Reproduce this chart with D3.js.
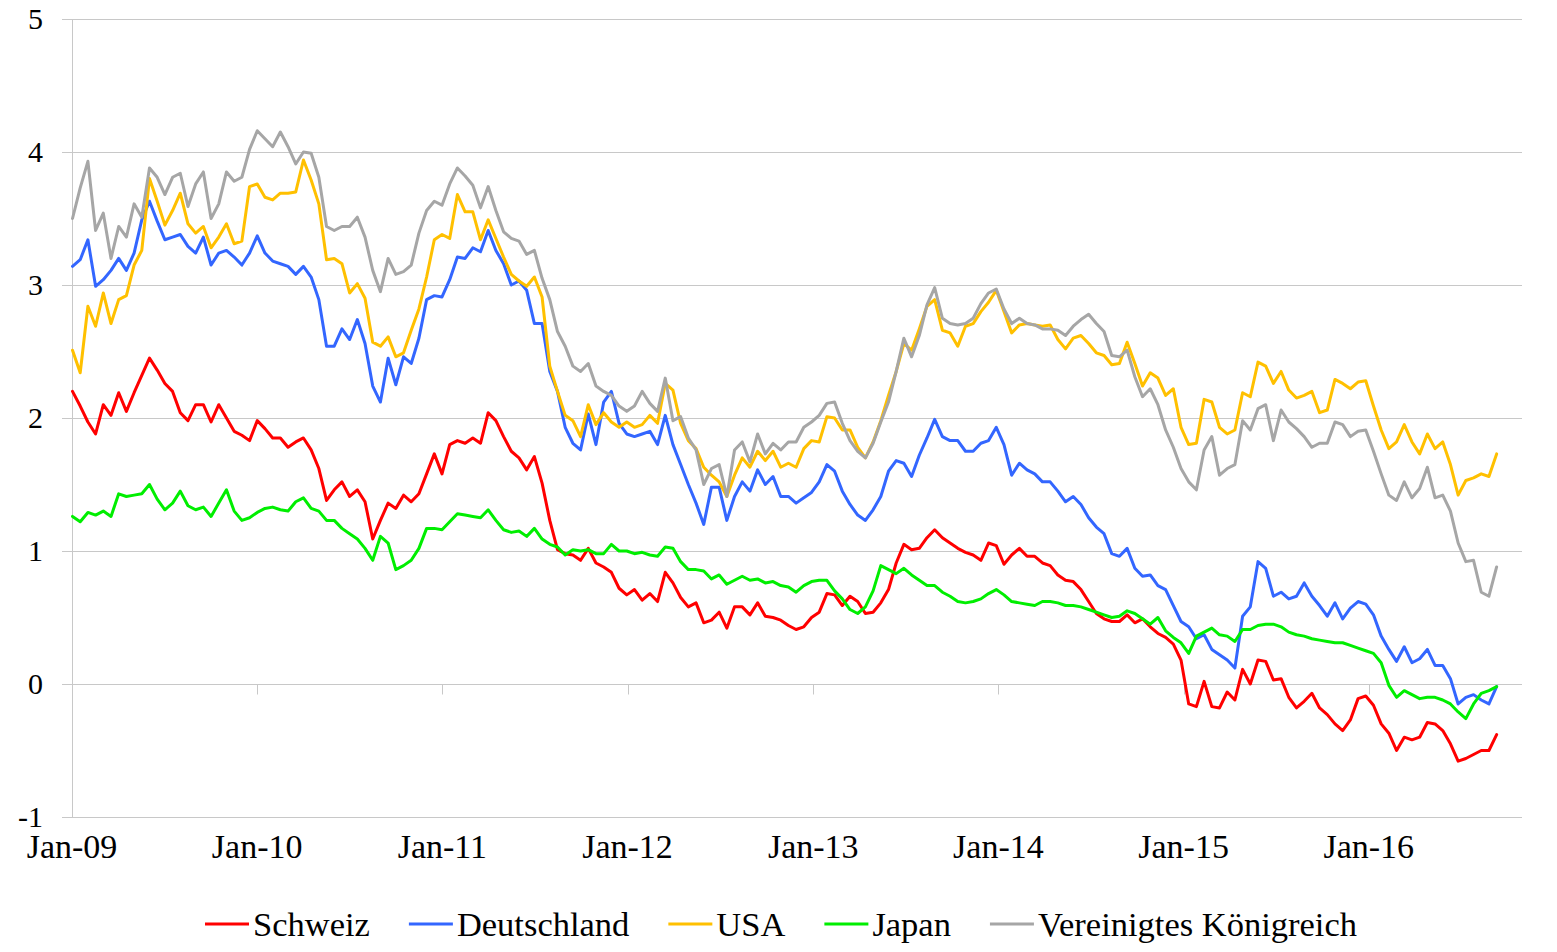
<!DOCTYPE html>
<html>
<head>
<meta charset="utf-8">
<script src="https://cdn.jsdelivr.net/npm/d3@7"></script>
<style>
  html, body { margin: 0; padding: 0; background: #fff; }
  svg { display: block; }
  text { font-family: "Liberation Serif", "Times New Roman", serif; fill: #000; }
</style>
</head>
<body>
<svg id="chart" width="1557" height="952"></svg>
<script>
// ---- data (semi-monthly observations, Jan 2009 - Sep 2016) ----
const seriesNames = ["Schweiz", "Deutschland", "USA", "Japan", "Vereinigtes Königreich"];
const seriesColors = ["#ff0000", "#3366ff", "#ffc000", "#00ee00", "#a6a6a6"];
const yTicks = [-1, 0, 1, 2, 3, 4, 5];
const xTickYears = [2009, 2010, 2011, 2012, 2013, 2014, 2015, 2016];

const schweiz = [
  2.20, 2.09, 1.97, 1.88, 2.10, 2.02, 2.19, 2.05, 2.19, 2.32, 2.45, 2.36, 2.26, 2.20, 2.04, 1.98, 2.10, 2.10, 1.97, 2.10, 2.00, 1.90, 1.87, 1.83, 1.98,
  1.92, 1.85, 1.85, 1.78, 1.82, 1.85, 1.76, 1.62, 1.38, 1.46, 1.52, 1.41, 1.46, 1.37, 1.09, 1.23, 1.36, 1.32, 1.42, 1.37, 1.43, 1.58, 1.73, 1.58,
  1.80, 1.83, 1.81, 1.85, 1.81, 2.04, 1.98, 1.86, 1.75, 1.70, 1.61, 1.71, 1.51, 1.23, 1.01, 0.98, 0.97, 0.93, 1.02, 0.91, 0.88, 0.84, 0.72, 0.67,
  0.71, 0.63, 0.68, 0.62, 0.84, 0.76, 0.65, 0.58, 0.61, 0.46, 0.48, 0.54, 0.42, 0.58, 0.58, 0.52, 0.61, 0.51, 0.50, 0.48, 0.44, 0.41, 0.43, 0.50,
  0.54, 0.68, 0.67, 0.59, 0.66, 0.62, 0.53, 0.54, 0.61, 0.71, 0.91, 1.05, 1.01, 1.02, 1.10, 1.16, 1.10, 1.06, 1.02, 0.99, 0.97, 0.93, 1.06, 1.04,
  0.90, 0.97, 1.02, 0.96, 0.96, 0.91, 0.89, 0.82, 0.78, 0.77, 0.71, 0.62, 0.53, 0.49, 0.47, 0.47, 0.52, 0.46, 0.49, 0.43, 0.38, 0.35, 0.30, 0.18,
  -0.15, -0.17, 0.02, -0.17, -0.18, -0.06, -0.12, 0.11, 0.00, 0.18, 0.17, 0.03, 0.04, -0.10, -0.18, -0.13, -0.07, -0.18, -0.23, -0.30, -0.35, -0.27, -0.11, -0.09,
  -0.16, -0.30, -0.37, -0.50, -0.40, -0.42, -0.40, -0.29, -0.30, -0.35, -0.45, -0.58, -0.56, -0.53, -0.50, -0.50, -0.38
];
const deutschland = [
  3.14, 3.19, 3.34, 2.99, 3.04, 3.11, 3.20, 3.11, 3.24, 3.49, 3.63, 3.48, 3.34, 3.36, 3.38, 3.29, 3.24, 3.36, 3.15, 3.24, 3.26, 3.21, 3.15, 3.24, 3.37,
  3.24, 3.18, 3.16, 3.14, 3.08, 3.14, 3.06, 2.89, 2.54, 2.54, 2.67, 2.59, 2.74, 2.56, 2.24, 2.12, 2.45, 2.25, 2.46, 2.41, 2.60, 2.89, 2.92, 2.91,
  3.04, 3.21, 3.20, 3.28, 3.25, 3.41, 3.26, 3.16, 3.00, 3.03, 2.96, 2.71, 2.71, 2.35, 2.20, 1.93, 1.81, 1.76, 2.03, 1.80, 2.12, 2.20, 1.96, 1.88,
  1.86, 1.88, 1.90, 1.80, 2.02, 1.80, 1.65, 1.50, 1.36, 1.20, 1.48, 1.48, 1.23, 1.41, 1.52, 1.45, 1.61, 1.50, 1.56, 1.41, 1.41, 1.36, 1.40, 1.44,
  1.52, 1.65, 1.60, 1.45, 1.35, 1.27, 1.23, 1.31, 1.41, 1.60, 1.68, 1.66, 1.56, 1.72, 1.85, 1.99, 1.86, 1.83, 1.83, 1.75, 1.75, 1.81, 1.83, 1.93,
  1.80, 1.57, 1.66, 1.61, 1.58, 1.52, 1.52, 1.45, 1.37, 1.41, 1.35, 1.25, 1.18, 1.13, 0.98, 0.96, 1.02, 0.87, 0.81, 0.82, 0.74, 0.71, 0.59, 0.47,
  0.43, 0.34, 0.37, 0.26, 0.22, 0.18, 0.12, 0.51, 0.58, 0.92, 0.87, 0.66, 0.69, 0.64, 0.66, 0.76, 0.66, 0.59, 0.51, 0.61, 0.49, 0.57, 0.62, 0.60,
  0.52, 0.36, 0.26, 0.17, 0.28, 0.16, 0.19, 0.26, 0.14, 0.14, 0.04, -0.15, -0.10, -0.08, -0.12, -0.15, -0.02
];
const usa = [
  2.51, 2.34, 2.84, 2.69, 2.94, 2.71, 2.89, 2.92, 3.15, 3.26, 3.80, 3.63, 3.45, 3.56, 3.69, 3.46, 3.39, 3.44, 3.28, 3.36, 3.46, 3.31, 3.33, 3.74, 3.76,
  3.66, 3.64, 3.69, 3.69, 3.70, 3.94, 3.79, 3.61, 3.19, 3.20, 3.16, 2.94, 3.01, 2.90, 2.57, 2.54, 2.61, 2.46, 2.49, 2.66, 2.82, 3.06, 3.34, 3.38,
  3.35, 3.68, 3.55, 3.55, 3.34, 3.49, 3.35, 3.21, 3.08, 3.03, 2.99, 3.06, 2.91, 2.39, 2.20, 2.02, 1.98, 1.86, 2.10, 1.95, 2.04, 1.97, 1.93, 1.97,
  1.93, 1.95, 2.02, 1.96, 2.26, 2.21, 1.96, 1.83, 1.77, 1.63, 1.57, 1.52, 1.41, 1.57, 1.70, 1.63, 1.75, 1.68, 1.75, 1.63, 1.66, 1.63, 1.77, 1.83,
  1.82, 2.01, 2.00, 1.91, 1.91, 1.78, 1.70, 1.82, 1.98, 2.17, 2.35, 2.56, 2.51, 2.67, 2.84, 2.89, 2.66, 2.64, 2.54, 2.69, 2.71, 2.80, 2.87, 2.96,
  2.80, 2.64, 2.70, 2.71, 2.70, 2.69, 2.70, 2.59, 2.52, 2.60, 2.62, 2.56, 2.49, 2.47, 2.40, 2.41, 2.57, 2.41, 2.24, 2.34, 2.30, 2.17, 2.22, 1.93,
  1.80, 1.81, 2.14, 2.12, 1.93, 1.88, 1.91, 2.19, 2.16, 2.42, 2.39, 2.26, 2.35, 2.21, 2.15, 2.17, 2.20, 2.04, 2.06, 2.29, 2.26, 2.22, 2.27, 2.28,
  2.09, 1.91, 1.77, 1.82, 1.95, 1.82, 1.73, 1.88, 1.77, 1.82, 1.65, 1.42, 1.53, 1.55, 1.58, 1.56, 1.73
];
const japan = [
  1.26, 1.22, 1.29, 1.27, 1.30, 1.26, 1.43, 1.41, 1.42, 1.43, 1.50, 1.39, 1.31, 1.36, 1.45, 1.34, 1.31, 1.33, 1.26, 1.36, 1.46, 1.30, 1.23, 1.25, 1.29,
  1.32, 1.33, 1.31, 1.30, 1.37, 1.40, 1.32, 1.30, 1.23, 1.23, 1.17, 1.13, 1.09, 1.02, 0.93, 1.11, 1.06, 0.86, 0.89, 0.93, 1.02, 1.17, 1.17, 1.16,
  1.22, 1.28, 1.27, 1.26, 1.25, 1.31, 1.23, 1.16, 1.14, 1.15, 1.11, 1.17, 1.09, 1.05, 1.03, 0.97, 1.01, 1.00, 1.01, 0.98, 0.98, 1.05, 1.00, 1.00,
  0.98, 0.99, 0.97, 0.96, 1.03, 1.02, 0.92, 0.86, 0.86, 0.85, 0.79, 0.82, 0.75, 0.78, 0.81, 0.78, 0.79, 0.76, 0.77, 0.74, 0.73, 0.69, 0.74, 0.77,
  0.78, 0.78, 0.70, 0.64, 0.56, 0.53, 0.58, 0.70, 0.89, 0.86, 0.83, 0.87, 0.82, 0.78, 0.74, 0.74, 0.69, 0.66, 0.62, 0.61, 0.62, 0.64, 0.68, 0.71,
  0.67, 0.62, 0.61, 0.60, 0.59, 0.62, 0.62, 0.61, 0.59, 0.59, 0.58, 0.56, 0.54, 0.52, 0.50, 0.51, 0.55, 0.53, 0.49, 0.45, 0.50, 0.40, 0.35, 0.31,
  0.23, 0.36, 0.39, 0.42, 0.37, 0.36, 0.32, 0.41, 0.41, 0.44, 0.45, 0.45, 0.43, 0.39, 0.37, 0.36, 0.34, 0.33, 0.32, 0.31, 0.31, 0.29, 0.27, 0.25,
  0.23, 0.16, -0.01, -0.10, -0.05, -0.08, -0.11, -0.10, -0.10, -0.12, -0.15, -0.21, -0.26, -0.15, -0.07, -0.05, -0.02
];
const vk = [
  3.50, 3.73, 3.93, 3.41, 3.54, 3.20, 3.44, 3.36, 3.61, 3.51, 3.88, 3.81, 3.68, 3.81, 3.84, 3.59, 3.76, 3.85, 3.50, 3.61, 3.85, 3.78, 3.81, 4.02, 4.16,
  4.10, 4.04, 4.15, 4.04, 3.91, 4.00, 3.99, 3.81, 3.44, 3.41, 3.44, 3.44, 3.51, 3.36, 3.11, 2.95, 3.20, 3.08, 3.10, 3.15, 3.39, 3.56, 3.63, 3.60,
  3.76, 3.88, 3.82, 3.75, 3.58, 3.74, 3.56, 3.40, 3.35, 3.33, 3.23, 3.26, 3.05, 2.89, 2.65, 2.54, 2.39, 2.35, 2.41, 2.24, 2.20, 2.17, 2.09, 2.05,
  2.09, 2.20, 2.11, 2.05, 2.30, 1.98, 2.01, 1.85, 1.76, 1.50, 1.62, 1.65, 1.41, 1.76, 1.82, 1.67, 1.88, 1.73, 1.81, 1.76, 1.82, 1.82, 1.93, 1.97,
  2.02, 2.11, 2.12, 1.96, 1.83, 1.75, 1.70, 1.81, 1.97, 2.12, 2.35, 2.60, 2.46, 2.62, 2.85, 2.98, 2.75, 2.71, 2.70, 2.71, 2.75, 2.86, 2.94, 2.97,
  2.82, 2.71, 2.75, 2.71, 2.70, 2.67, 2.67, 2.66, 2.62, 2.69, 2.74, 2.78, 2.71, 2.65, 2.47, 2.46, 2.51, 2.31, 2.16, 2.22, 2.10, 1.91, 1.78, 1.62,
  1.52, 1.46, 1.76, 1.86, 1.57, 1.62, 1.65, 1.98, 1.91, 2.07, 2.10, 1.83, 2.06, 1.97, 1.92, 1.86, 1.78, 1.81, 1.81, 1.97, 1.95, 1.86, 1.90, 1.91,
  1.75, 1.58, 1.42, 1.38, 1.52, 1.40, 1.47, 1.63, 1.40, 1.42, 1.30, 1.06, 0.92, 0.93, 0.69, 0.66, 0.88
];
const seriesValues = [schweiz, deutschland, usa, japan, vk];

// observation dates: semi-monthly from 2 Jan 2009 to 9 Sep 2016
const firstObs = Date.UTC(2009, 0, 2), lastObs = Date.UTC(2016, 8, 9);
const dates = d3.range(schweiz.length).map(i => new Date(firstObs + i * (lastObs - firstObs) / (schweiz.length - 1)));

(function draw() {
  const svg = d3.select("#chart");
  const pL = 72, pR = 1522, pT = 19, pB = 817;
  const xFont = 34, yFont = 30;
  const gridColor = "#c8c8c8";

  const x = d3.scaleUtc().domain([new Date(Date.UTC(2009, 0, 1)), new Date(Date.UTC(2016, 9, 29))]).range([pL, pR]);
  const y = d3.scaleLinear().domain([-1, 5]).range([pB, pT]);

  // horizontal gridlines (with short outward ticks)
  svg.append("g").selectAll("line").data(yTicks).join("line")
    .attr("x1", pL - 10).attr("x2", pR)
    .attr("y1", d => Math.round(y(d)) + 0.5).attr("y2", d => Math.round(y(d)) + 0.5)
    .attr("stroke", gridColor).attr("stroke-width", 1);

  // vertical axis line
  svg.append("line")
    .attr("x1", pL + 0.5).attr("x2", pL + 0.5).attr("y1", pT).attr("y2", pB)
    .attr("stroke", gridColor).attr("stroke-width", 1);

  // y labels
  svg.append("g").selectAll("text").data(yTicks).join("text")
    .attr("x", 43).attr("y", d => y(d)).attr("dy", "0.34em")
    .attr("text-anchor", "end").attr("font-size", yFont)
    .text(d => d);

  // x axis at zero, ticks pointing down
  const xTicks = xTickYears.map(yr => new Date(Date.UTC(yr, 0, 1)));
  const zeroY = Math.round(y(0)) + 0.5;
  svg.append("g").selectAll("line").data(xTicks).join("line")
    .attr("x1", d => Math.round(x(d)) + 0.5).attr("x2", d => Math.round(x(d)) + 0.5)
    .attr("y1", zeroY).attr("y2", zeroY + 10)
    .attr("stroke", gridColor).attr("stroke-width", 1);

  const fmt = d3.utcFormat("%b-%y");
  svg.append("g").selectAll("text").data(xTicks).join("text")
    .attr("x", d => x(d)).attr("y", 858)
    .attr("text-anchor", "middle").attr("font-size", xFont)
    .text(d => fmt(d));

  // lines
  const line = d3.line().x((d, i) => x(dates[i])).y(d => y(d));
  svg.append("g").selectAll("path").data(seriesValues).join("path")
    .attr("d", d => line(d))
    .attr("fill", "none")
    .attr("stroke", (d, i) => seriesColors[i])
    .attr("stroke-width", 3)
    .attr("stroke-linejoin", "round")
    .attr("stroke-linecap", "round");

  // legend
  const legend = svg.append("g");
  const legendY = 924, swatch = 44, gapText = 4, gapItem = 39, legendFont = 34.5;
  const items = legend.selectAll("g").data(seriesNames).join("g");
  items.append("line")
    .attr("x1", 0).attr("x2", swatch).attr("y1", legendY).attr("y2", legendY)
    .attr("stroke", (d, i) => seriesColors[i]).attr("stroke-width", 3);
  items.append("text")
    .attr("x", swatch + gapText).attr("y", legendY).attr("dy", "0.34em")
    .attr("font-size", legendFont).text(d => d);
  let cursor = 205;
  items.each(function () {
    const w = swatch + gapText + d3.select(this).select("text").node().getComputedTextLength();
    d3.select(this).attr("transform", `translate(${cursor},0)`);
    cursor += w + gapItem;
  });
})();
</script>
</body>
</html>
